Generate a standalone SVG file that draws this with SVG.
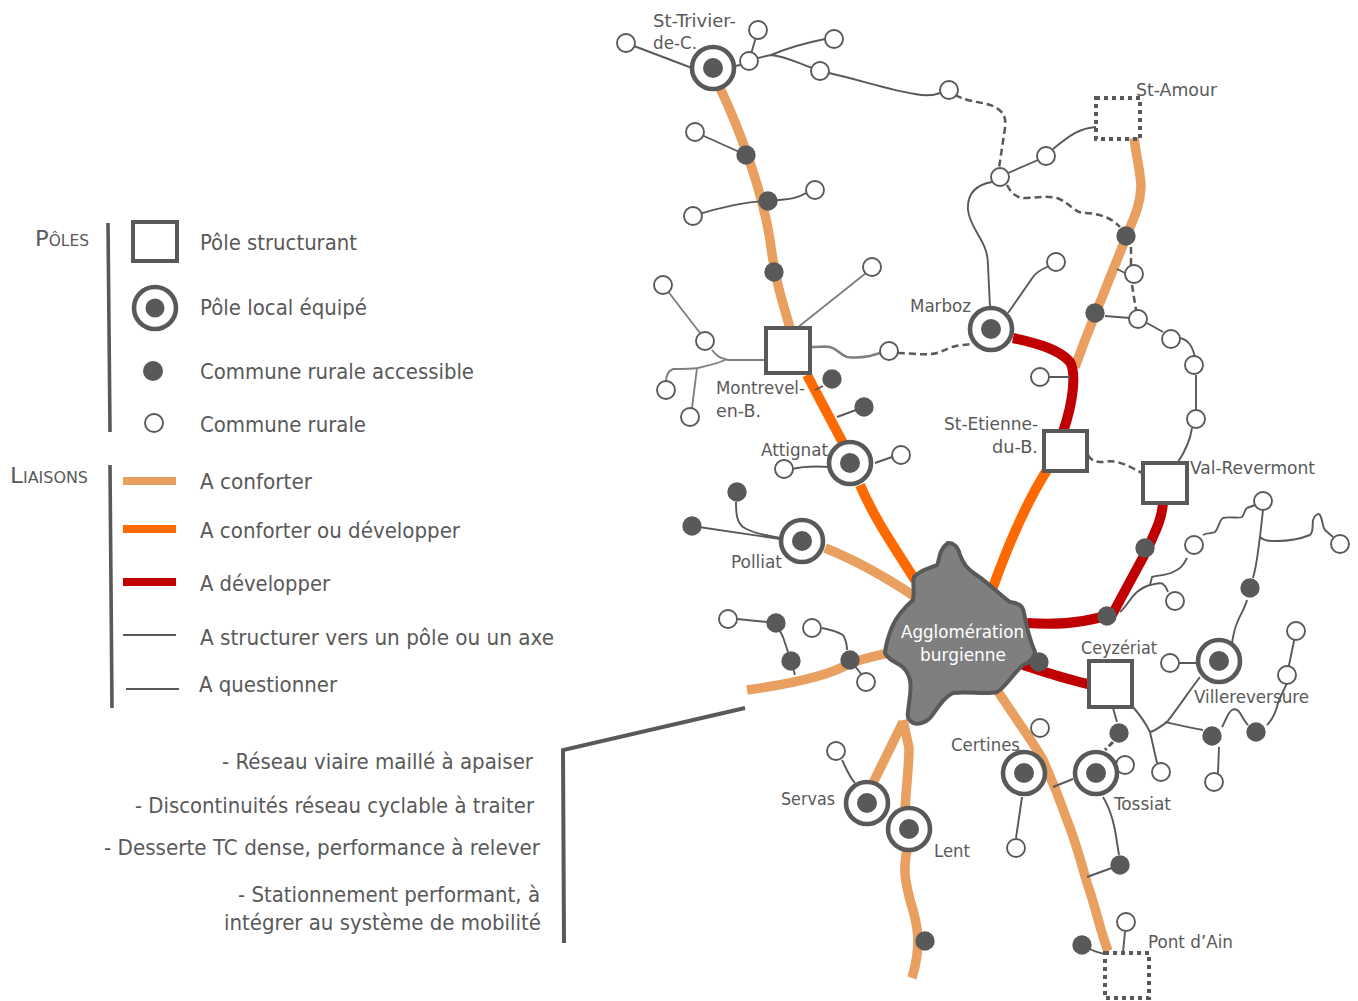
<svg xmlns="http://www.w3.org/2000/svg" width="1358" height="1001" viewBox="0 0 1358 1001">
<style>
text{font-family:"DejaVu Sans","Noto Sans",sans-serif;font-stretch:condensed;fill:#595959;font-size:18.5px}
.lg{font-size:22px}
.agg{fill:#fff;font-size:18.5px}
.sc{font-variant:small-caps;font-size:22px}
.p,.o,.r,.t,.d,.g,.gt{fill:none;stroke-linejoin:round}
.p{stroke:#E89F5F;stroke-width:9.5}
.o{stroke:#FF6A00;stroke-width:10}
.r{stroke:#C00000;stroke-width:10}
.t{stroke:#595959;stroke-width:1.9}
.g{stroke:#7F7F7F;stroke-width:1.9}
.gt{stroke:#7F7F7F;stroke-width:2.6}
.d{stroke:#595959;stroke-width:2.5;stroke-dasharray:7 4}
.open{fill:#fff;stroke:#595959;stroke-width:1.9}
.full{fill:#595959}
.ring{fill:#fff;stroke:#595959;stroke-width:4.6}
.sq{fill:#fff;stroke:#595959;stroke-width:4}
.dot{fill:none;stroke:#595959;stroke-width:4;stroke-dasharray:4 4}
.bar{fill:none;stroke:#595959;stroke-width:3.6}
</style>
<g id="connectors">
<path class="p" d="M720,88C740,130 762,190 770,240C775,280 782,300 790,328"/>
<path class="p" d="M1134,138C1137,160 1141,175 1141,187C1140,210 1130,225 1125,240L1085,340L1075,367"/>
<path class="p" d="M825,548C860,562 890,580 914,596"/>
<path class="p" d="M747,690C790,684 830,676 850,663C865,658 875,656 888,653"/>
<path class="p" d="M872,785L903,722"/>
<path class="p" d="M903,720L909,748C909,770 905,795 905,815"/>
<path class="p" d="M907,850C903,870 905,880 910,900C918,925 922,945 912,978"/>
<path class="p" d="M997,690C1020,725 1035,745 1043,760C1052,780 1060,800 1067,820C1075,840 1082,865 1087,883C1095,905 1100,930 1108,951"/>
<path class="o" d="M807,375L843,443"/>
<path class="o" d="M860,485C875,520 895,548 915,580"/>
<path class="o" d="M1047,470C1025,505 1008,545 992,590"/>
<path class="r" d="M1013,338C1040,344 1060,350 1070,362C1076,372 1074,400 1063,432"/>
<path class="r" d="M1163,502C1162,520 1155,532 1147,550L1113,613C1085,624 1055,625 1027,623"/>
<path class="r" d="M1088,684C1065,679 1045,672 1023,665"/>
<path class="t" d="M634,46L692,68M758,30L749,61M735,66L740,65"/>
<path class="t" d="M758,58L771,55C790,47 810,42 825,39M770,55C785,56 795,62 812,68"/>
<path class="t" d="M829,73C860,80 890,90 915,94C925,96 935,95 940,93"/>
<path class="d" d="M955,95C970,103 985,102 993,106C1005,112 1006,118 1005,128L999,168"/>
<path class="t" d="M1008,173L1038,160M1053,149C1070,135 1080,128 1096,127"/>
<path class="t" d="M992,182C975,185 967,195 968,210C970,230 988,240 988,265L990,308"/>
<path class="d" d="M1007,185C1012,194 1016,198 1026,198C1040,197 1050,196 1057,198C1070,203 1074,212 1083,213C1095,213 1110,216 1120,227"/>
<path class="d" d="M1131,247L1131,267M1132,285L1136,310"/>
<path class="t" d="M1117,269L1125,273M1105,316L1130,318M1147,323L1163,332"/>
<path class="t" d="M1180,338C1188,340 1192,345 1195,357M1196,375L1196,410M1192,428C1190,442 1184,453 1178,462"/>
<path class="t" d="M1056,262L1047,267C1040,270 1036,273 1033,277L1008,313M1030,377L1070,377"/>
<path class="d" d="M1088,455C1092,462 1098,462 1105,462C1118,459 1130,467 1142,473"/>
<path class="t" d="M695,132L746,155M693,216C720,207 750,201 768,201C785,199 795,200 806,193"/>
<path class="g" d="M866,273L797,328M663,285L700,333M712,350C718,358 722,358 728,360L766,360"/>
<path class="g" d="M727,359C718,364 705,366 698,368C690,369 680,369 673,369C668,371 666,376 666,382M697,368L692,408"/>
<path class="gt" d="M812,347C820,347 826,346 830,347C838,349 840,355 847,357C855,358 865,357 870,356L880,353"/>
<path class="d" d="M898,353C908,353 920,355 930,354C938,354 944,350 952,347C958,345 965,345 972,344"/>
<path class="t" d="M823,386L815,390M837,417L856,410M792,469C800,467 815,466 830,467M875,463L892,457"/>
<path class="t" d="M692,526L780,539M736,502C736,515 737,522 743,527C752,533 765,535 780,538"/>
<path class="t" d="M1120,612C1127,606 1130,598 1137,592C1142,588 1146,586 1150,585C1155,584 1161,582 1163,584C1167,587 1167,590 1168,592"/>
<path class="t" d="M1150,585L1152,577C1160,575 1168,575 1173,572C1180,569 1183,566 1187,558"/>
<path class="t" d="M1203,535C1208,532 1212,534 1215,532C1219,528 1219,520 1223,518C1230,516 1238,519 1242,517C1245,513 1245,509 1247,508L1255,505"/>
<path class="t" d="M1263,510L1260,537C1258,550 1257,565 1253,578M1247,600C1245,608 1240,615 1237,623C1234,630 1233,637 1232,643"/>
<path class="t" d="M1260,537C1265,542 1272,541 1277,541C1290,541 1300,539 1310,535C1314,531 1312,525 1313,520C1315,514 1319,513 1320,515C1323,520 1322,526 1325,530L1333,537"/>
<path class="t" d="M1179,663L1197,663M1200,677C1190,690 1178,708 1167,722C1160,727 1155,731 1150,732C1145,722 1140,715 1133,707M1150,732L1157,763"/>
<path class="t" d="M1165,722C1178,725 1190,728 1203,730M1219,747L1218,773M1222,727C1226,720 1228,712 1232,710C1236,708 1238,710 1240,713C1243,718 1245,722 1248,725"/>
<path class="t" d="M1267,725C1272,720 1276,712 1278,703C1281,695 1284,690 1287,683M1287,675L1296,631"/>
<path class="t" d="M1113,708L1117,722M1073,779L1053,787"/>
<path class="d" d="M1113,742L1105,750" style="stroke-width:3;stroke-dasharray:6 3"/>
<path class="t" d="M1103,797C1110,808 1113,820 1115,830L1119,855M1120,865L1087,877M1022,797L1016,838"/>
<path class="t" d="M1125,932L1123,952M1082,945L1092,950C1096,952 1100,953 1105,954"/>
<path class="t" d="M842,760C846,768 850,778 855,783M737,619L767,622M776,623L783,637L788,652M791,661L795,675"/>
<path class="t" d="M822,628C832,630 838,632 843,635C846,640 847,645 847,650M850,660L862,675"/>
</g>
<g id="agglomeration">
<path d="M948,543C955,543 958,547 960,555C964,565 967,568 975,574C990,584 1000,595 1010,602C1018,603 1023,605 1024,613C1027,630 1030,640 1035,652C1034,660 1028,663 1023,665C1012,675 1005,688 997,692C985,695 970,691 953,693C942,698 937,710 930,718C925,723 918,725 913,723C908,720 907,717 908,712C909,700 912,690 910,680C908,672 905,668 900,665C893,661 887,658 885,653C886,642 889,635 892,627C897,615 905,607 913,600C915,590 912,583 914,577C920,570 930,568 937,565C940,560 938,550 948,543Z" fill="#7F7F7F" stroke="#595959" stroke-width="4"/>
<text class="agg" x="901" y="638" textLength="123" lengthAdjust="spacingAndGlyphs">Agglomération</text>
<text class="agg" x="920" y="661" textLength="86" lengthAdjust="spacingAndGlyphs">burgienne</text>
</g>
<g id="rural-open">
<circle class="open" cx="626" cy="43" r="9"/><circle class="open" cx="758" cy="30" r="9"/><circle class="open" cx="749" cy="61" r="9"/><circle class="open" cx="834" cy="39" r="9"/><circle class="open" cx="820" cy="71" r="9"/><circle class="open" cx="949" cy="90" r="9"/><circle class="open" cx="695" cy="132" r="9"/><circle class="open" cx="693" cy="216" r="9"/><circle class="open" cx="815" cy="190" r="9"/><circle class="open" cx="872" cy="267" r="9"/><circle class="open" cx="663" cy="285" r="9"/><circle class="open" cx="705" cy="341" r="9"/><circle class="open" cx="666" cy="390" r="9"/><circle class="open" cx="690" cy="417" r="9"/><circle class="open" cx="889" cy="351" r="9"/><circle class="open" cx="1000" cy="177" r="9"/><circle class="open" cx="1046" cy="156" r="9"/><circle class="open" cx="1056" cy="262" r="9"/><circle class="open" cx="1134" cy="274" r="9"/><circle class="open" cx="1138" cy="319" r="9"/><circle class="open" cx="1171" cy="339" r="9"/><circle class="open" cx="1194" cy="365" r="9"/><circle class="open" cx="1196" cy="419" r="9"/><circle class="open" cx="1040" cy="377" r="9"/><circle class="open" cx="784" cy="469" r="9"/><circle class="open" cx="901" cy="455" r="9"/><circle class="open" cx="1263" cy="501" r="9"/><circle class="open" cx="1194" cy="545" r="9"/><circle class="open" cx="1340" cy="544" r="9"/><circle class="open" cx="1175" cy="601" r="9"/><circle class="open" cx="1170" cy="663" r="9"/><circle class="open" cx="1296" cy="631" r="9"/><circle class="open" cx="1287" cy="675" r="9"/><circle class="open" cx="1161" cy="772" r="9"/><circle class="open" cx="1214" cy="782" r="9"/><circle class="open" cx="1125" cy="765" r="9"/><circle class="open" cx="1040" cy="728" r="9"/><circle class="open" cx="728" cy="619" r="9"/><circle class="open" cx="812" cy="628" r="9"/><circle class="open" cx="866" cy="682" r="9"/><circle class="open" cx="836" cy="751" r="9"/><circle class="open" cx="1016" cy="848" r="9"/><circle class="open" cx="1126" cy="922" r="9"/>
</g>
<g id="rural-accessible">
<circle class="full" cx="746" cy="155" r="9.7"/><circle class="full" cx="768" cy="201" r="9.7"/><circle class="full" cx="774" cy="272" r="9.7"/><circle class="full" cx="832" cy="379" r="9.7"/><circle class="full" cx="864" cy="407" r="9.7"/><circle class="full" cx="737" cy="492" r="9.7"/><circle class="full" cx="692" cy="526" r="9.7"/><circle class="full" cx="1126" cy="236" r="9.7"/><circle class="full" cx="1095" cy="313" r="9.7"/><circle class="full" cx="1145" cy="548" r="9.7"/><circle class="full" cx="1107" cy="616" r="9.7"/><circle class="full" cx="1250" cy="588" r="9.7"/><circle class="full" cx="1212" cy="736" r="9.7"/><circle class="full" cx="1256" cy="732" r="9.7"/><circle class="full" cx="1119" cy="733" r="9.7"/><circle class="full" cx="1039" cy="662" r="9.7"/><circle class="full" cx="776" cy="623" r="9.7"/><circle class="full" cx="791" cy="661" r="9.7"/><circle class="full" cx="850" cy="660" r="9.7"/><circle class="full" cx="1120" cy="865" r="9.7"/><circle class="full" cx="925" cy="941" r="9.7"/><circle class="full" cx="1082" cy="945" r="9.7"/>
</g>
<g id="st-trivier"><circle class="ring" cx="713" cy="68" r="21"/><circle class="full" cx="713" cy="68" r="10"/><text x="653" y="27" textLength="83" lengthAdjust="spacingAndGlyphs">St-Trivier-</text><text x="653" y="49" textLength="44" lengthAdjust="spacingAndGlyphs">de-C.</text></g>
<g id="st-amour"><rect class="dot" x="1096" y="98" width="44" height="41"/><text x="1136" y="96" textLength="81" lengthAdjust="spacingAndGlyphs">St-Amour</text></g>
<g id="marboz"><circle class="ring" cx="991" cy="329" r="21"/><circle class="full" cx="991" cy="329" r="10"/><text x="910" y="312" textLength="61" lengthAdjust="spacingAndGlyphs">Marboz</text></g>
<g id="montrevel"><rect class="sq" x="766" y="328" width="44" height="45"/><text x="716" y="394" textLength="89" lengthAdjust="spacingAndGlyphs">Montrevel-</text><text x="716" y="417" textLength="45" lengthAdjust="spacingAndGlyphs">en-B.</text></g>
<g id="st-etienne"><rect class="sq" x="1044" y="431" width="43" height="40"/><text x="944" y="430" textLength="94" lengthAdjust="spacingAndGlyphs">St-Etienne-</text><text x="992" y="453" textLength="46" lengthAdjust="spacingAndGlyphs">du-B.</text></g>
<g id="val-revermont"><rect class="sq" x="1143" y="463" width="44" height="40"/><text x="1190" y="474" textLength="125" lengthAdjust="spacingAndGlyphs">Val-Revermont</text></g>
<g id="attignat"><circle class="ring" cx="850" cy="463" r="21"/><circle class="full" cx="850" cy="463" r="10"/><text x="761" y="456" textLength="67" lengthAdjust="spacingAndGlyphs">Attignat</text></g>
<g id="polliat"><circle class="ring" cx="802" cy="541" r="21"/><circle class="full" cx="802" cy="541" r="10"/><text x="731" y="568" textLength="51" lengthAdjust="spacingAndGlyphs">Polliat</text></g>
<g id="ceyzeriat"><rect class="sq" x="1089" y="661" width="43" height="46"/><text x="1081" y="654" textLength="76" lengthAdjust="spacingAndGlyphs">Ceyzériat</text></g>
<g id="villereversure"><circle class="ring" cx="1219" cy="661" r="21"/><circle class="full" cx="1219" cy="661" r="10"/><text x="1194" y="703" textLength="115" lengthAdjust="spacingAndGlyphs">Villereversure</text></g>
<g id="certines"><circle class="ring" style="fill:none" cx="1024" cy="773" r="21"/><circle class="full" cx="1024" cy="773" r="10"/><text x="951" y="751" textLength="69" lengthAdjust="spacingAndGlyphs">Certines</text></g>
<g id="tossiat"><circle class="ring" cx="1096" cy="773" r="21"/><circle class="full" cx="1096" cy="773" r="10"/><text x="1114" y="810" textLength="57" lengthAdjust="spacingAndGlyphs">Tossiat</text></g>
<g id="servas"><circle class="ring" cx="867" cy="803" r="21"/><circle class="full" cx="867" cy="803" r="10"/><text x="781" y="805" textLength="54" lengthAdjust="spacingAndGlyphs">Servas</text></g>
<g id="lent"><circle class="ring" cx="909" cy="829" r="21"/><circle class="full" cx="909" cy="829" r="10"/><text x="934" y="857" textLength="36" lengthAdjust="spacingAndGlyphs">Lent</text></g>
<g id="pont-d-ain"><rect class="dot" x="1105" y="953" width="44" height="45"/><text x="1148" y="948" textLength="85" lengthAdjust="spacingAndGlyphs">Pont d’Ain</text></g>
<g id="legend">
<text class="sc" x="35" y="246" textLength="54" lengthAdjust="spacingAndGlyphs">Pôles</text>
<text class="sc" x="10" y="483" textLength="78" lengthAdjust="spacingAndGlyphs">Liaisons</text>
<path class="bar" d="M108,223L110,432M110,465L112,708"/>
<rect class="sq" x="133" y="222" width="44" height="39"/>
<circle class="ring" cx="155" cy="308" r="21"/><circle class="full" cx="155" cy="308" r="9.5"/>
<circle class="full" cx="153" cy="371" r="10"/>
<circle class="open" cx="154" cy="423" r="9"/>
<rect x="123" y="477" width="53" height="8" fill="#E89F5F"/>
<rect x="123" y="525" width="53" height="8" fill="#FF6A00"/>
<rect x="123" y="578" width="53" height="8" fill="#C00000"/>
<path class="t" d="M123,635L176,635M126,689L179,689" style="stroke-width:2"/>
<text class="lg" x="200" y="250" textLength="157" lengthAdjust="spacingAndGlyphs">Pôle structurant</text>
<text class="lg" x="200" y="315" textLength="167" lengthAdjust="spacingAndGlyphs">Pôle local équipé</text>
<text class="lg" x="200" y="379" textLength="274" lengthAdjust="spacingAndGlyphs">Commune rurale accessible</text>
<text class="lg" x="200" y="432" textLength="166" lengthAdjust="spacingAndGlyphs">Commune rurale</text>
<text class="lg" x="200" y="489" textLength="112" lengthAdjust="spacingAndGlyphs">A conforter</text>
<text class="lg" x="200" y="538" textLength="260" lengthAdjust="spacingAndGlyphs">A conforter ou développer</text>
<text class="lg" x="200" y="591" textLength="130" lengthAdjust="spacingAndGlyphs">A développer</text>
<text class="lg" x="200" y="645" textLength="354" lengthAdjust="spacingAndGlyphs">A structurer vers un pôle ou un axe</text>
<text class="lg" x="199" y="692" textLength="138" lengthAdjust="spacingAndGlyphs">A questionner</text>
</g>
<g id="callout">
<path d="M745,708L563,750L564,943" fill="none" stroke="#595959" stroke-width="4"/>
<text class="lg" x="222" y="769" textLength="311" lengthAdjust="spacingAndGlyphs">- Réseau viaire maillé à apaiser</text>
<text class="lg" x="135" y="813" textLength="399" lengthAdjust="spacingAndGlyphs">- Discontinuités réseau cyclable à traiter</text>
<text class="lg" x="104" y="855" textLength="436" lengthAdjust="spacingAndGlyphs">- Desserte TC dense, performance à relever</text>
<text class="lg" x="238" y="902" textLength="302" lengthAdjust="spacingAndGlyphs">- Stationnement performant, à</text>
<text class="lg" x="224" y="930" textLength="317" lengthAdjust="spacingAndGlyphs">intégrer au système de mobilité</text>
</g>
</svg>
